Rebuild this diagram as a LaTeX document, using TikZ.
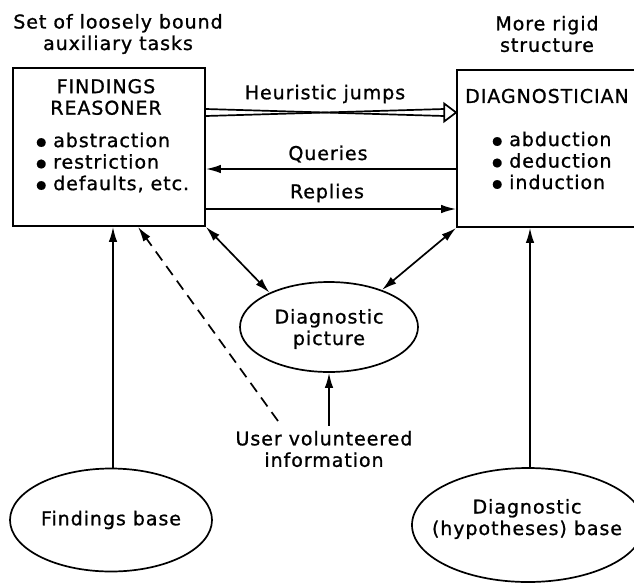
\documentclass[tikz,border=0pt]{standalone}
\usepackage{fontspec}
\setmainfont{DejaVu Sans}[LetterSpace=5,FakeBold=1]
\usetikzlibrary{arrows.meta,shapes.geometric}
\newcommand{\dotitem}{\raisebox{1.6pt}{\fontsize{11.5}{11.5}\selectfont ●}\hspace{7pt}}
\tikzset{
  txt/.style={font=\fontsize{19}{21.5}\selectfont, inner sep=0pt, align=center},
  boxnode/.style={draw, line width=1.7pt, inner sep=0pt},
  oval/.style={draw, ellipse, line width=1.7pt, inner sep=0pt},
  arr/.style={line width=1.7pt, -{Latex[length=15pt,width=8.5pt]}},
  dblarr/.style={line width=1.7pt, {Latex[length=15pt,width=8.5pt]}-{Latex[length=15pt,width=8.5pt]}},
}
\begin{document}
\begin{tikzpicture}[x=1pt,y=-1pt]
\useasboundingbox (0,0) rectangle (634,582);
\clip (0,0) rectangle (634,582);

% headings over the two reasoners
\node[txt] (lhead) at (118,34) {Set of loosely bound\\auxiliary tasks};
\node[txt] (rhead) at (547,34) {More rigid\\structure};

% the two reasoner boxes
\node[boxnode, minimum width=192pt, minimum height=158pt] (fr) at (109,147) {};
\node[boxnode, minimum width=205pt, minimum height=157pt] (dg) at (559.5,148.5) {};

\node[txt] (frtitle) at (106,97) {FINDINGS\\REASONER};
\node[txt, anchor=west, align=left] (frlist) at (36,162.5)
  {\dotitem abstraction\\\dotitem restriction\\\dotitem defaults, etc.};
\node[txt, anchor=west] (dgtitle) at (465,96) {DIAGNOSTICIAN};
\node[txt, anchor=west, align=left] (dglist) at (492,160.5)
  {\dotitem abduction\\\dotitem deduction\\\dotitem induction};

% heuristic jumps: double shaft with open head
\coordinate (hjtip) at (dg.west |- {0,112.5});
\draw[line width=1.7pt] (fr.east |- {0,109}) -- ([xshift=-12pt,yshift=-3.5pt]hjtip);
\draw[line width=1.7pt] (fr.east |- {0,116}) -- ([xshift=-12pt,yshift=3.5pt]hjtip);
\draw[line width=1.7pt, line join=miter] ([xshift=-12pt,yshift=-9pt]hjtip) -- (hjtip)
  -- ([xshift=-12pt,yshift=9pt]hjtip) -- cycle;
\node[txt] (hjlabel) at (325,94) {Heuristic jumps};

% queries and replies
\draw[arr] (dg.west |- {0,169}) -- (fr.east |- {0,169});
\node[txt] (qlabel) at (328,154) {Queries};
\draw[arr] (fr.east |- {0,209}) -- (dg.west |- {0,209});
\node[txt] (rlabel) at (327,193) {Replies};

% shared diagnostic picture
\node[oval, minimum width=178pt, minimum height=90pt] (dp) at (329,327) {};
\node[txt] (dptext) at (329,329) {Diagnostic\\picture};
\draw[dblarr] (fr.south east) -- (dp.150);
\draw[dblarr] (dg.south west) -- (dp.35);

% user input
\node[txt] (uvi) at (324,449) {User volunteered\\information};
\coordinate (uvidash) at (278,421);
\draw[line width=1.7pt, dash pattern=on 11pt off 7pt, -{Latex[length=15pt,width=8.5pt]}]
  (uvidash) -- (fr.south -| {138,0});
\draw[arr] (uvi.north -| dp.south) ++(0,-5) -- (dp.south);

% knowledge bases
\node[oval, minimum width=202pt, minimum height=103pt] (fb) at (111,520) {};
\node[txt] (fbtext) at (111,520) {Findings base};
\node[oval, minimum width=232pt, minimum height=114pt] (hb) at (528,525) {};
\node[txt] (hbtext) at (527,519) {Diagnostic\\(hypotheses) base};

\draw[arr] (fb.north -| {113,0}) -- (fr.south -| {113,0});
\draw[arr] (hb.north -| {530,0}) -- (dg.south -| {530,0});
\end{tikzpicture}
\end{document}
